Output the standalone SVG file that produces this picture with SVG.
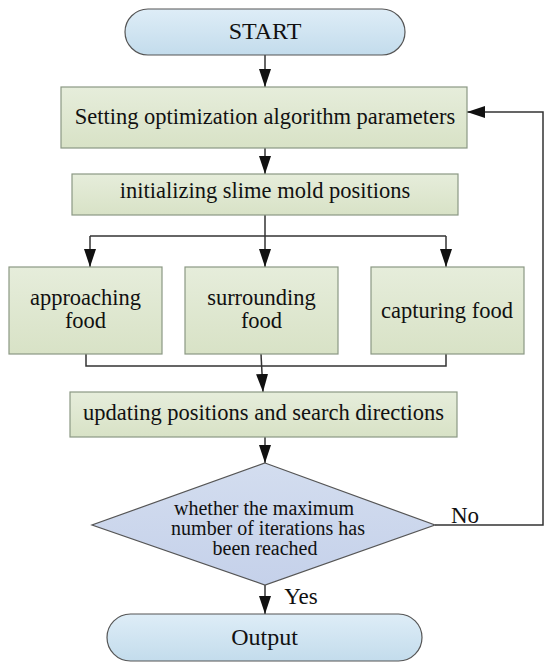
<svg xmlns="http://www.w3.org/2000/svg" width="550" height="669" viewBox="0 0 550 669">
<defs>
<linearGradient id="gBlue" x1="0" y1="0" x2="0" y2="1">
<stop offset="0" stop-color="#deedf7"/>
<stop offset="1" stop-color="#c3dcec"/>
</linearGradient>
<linearGradient id="gGreen" x1="0" y1="0" x2="0" y2="1">
<stop offset="0" stop-color="#e6eddb"/>
<stop offset="1" stop-color="#d8e2c6"/>
</linearGradient>
<linearGradient id="gDia" x1="0" y1="0" x2="0" y2="1">
<stop offset="0" stop-color="#d3ddef"/>
<stop offset="1" stop-color="#c5d1ea"/>
</linearGradient>
<marker id="arr" viewBox="0 0 18 12" refX="18" refY="6" markerWidth="18" markerHeight="12" markerUnits="userSpaceOnUse" orient="auto">
<path d="M0,0 L18,6 L0,12 Z" fill="#111"/>
</marker>
</defs>
<style>
.term{fill:url(#gBlue);stroke:#555;stroke-width:1.2}
.box{fill:url(#gGreen);stroke:#8b9884;stroke-width:1.2}
.dia{fill:url(#gDia);stroke:#555;stroke-width:1.2}
text{font-family:"Liberation Serif","Times New Roman",serif;fill:#111;text-anchor:middle}
.t22{font-size:22.5px}
.t20{font-size:20px}
.t24{font-size:24px}
.conn{fill:none;stroke:#333;stroke-width:1.5}
</style>
<rect width="550" height="669" fill="#ffffff"/>
<g id="connectors">
<path class="conn" d="M265,55 V87" marker-end="url(#arr)"/>
<path class="conn" d="M265,148 V174" marker-end="url(#arr)"/>
<path class="conn" d="M265,215 V236"/>
<path class="conn" d="M90,236 H446"/>
<path class="conn" d="M90,236 V267" marker-end="url(#arr)"/>
<path class="conn" d="M265,236 V267" marker-end="url(#arr)"/>
<path class="conn" d="M446,236 V267" marker-end="url(#arr)"/>
<path class="conn" d="M86,354 V366 H446 V354"/>
<path class="conn" d="M261,354 L263,392" marker-end="url(#arr)"/>
<path class="conn" d="M265,437 V463" marker-end="url(#arr)"/>
<path class="conn" d="M435,525 H543 V112 H467" marker-end="url(#arr)"/>
<path class="conn" d="M265,585 V614" marker-end="url(#arr)"/>
<text x="465" y="523" style="font-size:23px">No</text>
<text x="301" y="604" style="font-size:23px">Yes</text>
</g>
<g id="start">
<rect class="term" x="125" y="9" width="280" height="46" rx="23" ry="23"/>
<text class="t24" x="265" y="39">START</text>
</g>
<g id="setting">
<rect class="box" x="61" y="87" width="406" height="61"/>
<text class="t22" x="265" y="124">Setting optimization algorithm parameters</text>
</g>
<g id="init">
<rect class="box" x="72" y="174" width="386" height="41"/>
<text class="t22" x="265" y="198">initializing slime mold positions</text>
</g>
<g id="approaching">
<rect class="box" x="9" y="267" width="153" height="87"/>
<text class="t22" x="85.5" y="305">approaching</text>
<text class="t22" x="85.5" y="328">food</text>
</g>
<g id="surrounding">
<rect class="box" x="185" y="267" width="153" height="87"/>
<text class="t22" x="261.5" y="305">surrounding</text>
<text class="t22" x="261.5" y="328">food</text>
</g>
<g id="capturing">
<rect class="box" x="371" y="267" width="153" height="87"/>
<text class="t22" x="447" y="318">capturing food</text>
</g>
<g id="updating">
<rect class="box" x="70" y="392" width="387" height="45"/>
<text class="t22" x="263.5" y="420">updating positions and search directions</text>
</g>
<g id="decision">
<polygon class="dia" points="265,463 435,525 265,585 92,525"/>
<text class="t20" x="264" y="515">whether the maximum</text>
<text class="t20" x="268" y="535">number of iterations has</text>
<text class="t20" x="265" y="555">been reached</text>
</g>
<g id="output">
<rect class="term" x="107" y="614" width="315" height="47" rx="23.5" ry="23.5"/>
<text class="t24" x="264.5" y="645">Output</text>
</g>
</svg>
